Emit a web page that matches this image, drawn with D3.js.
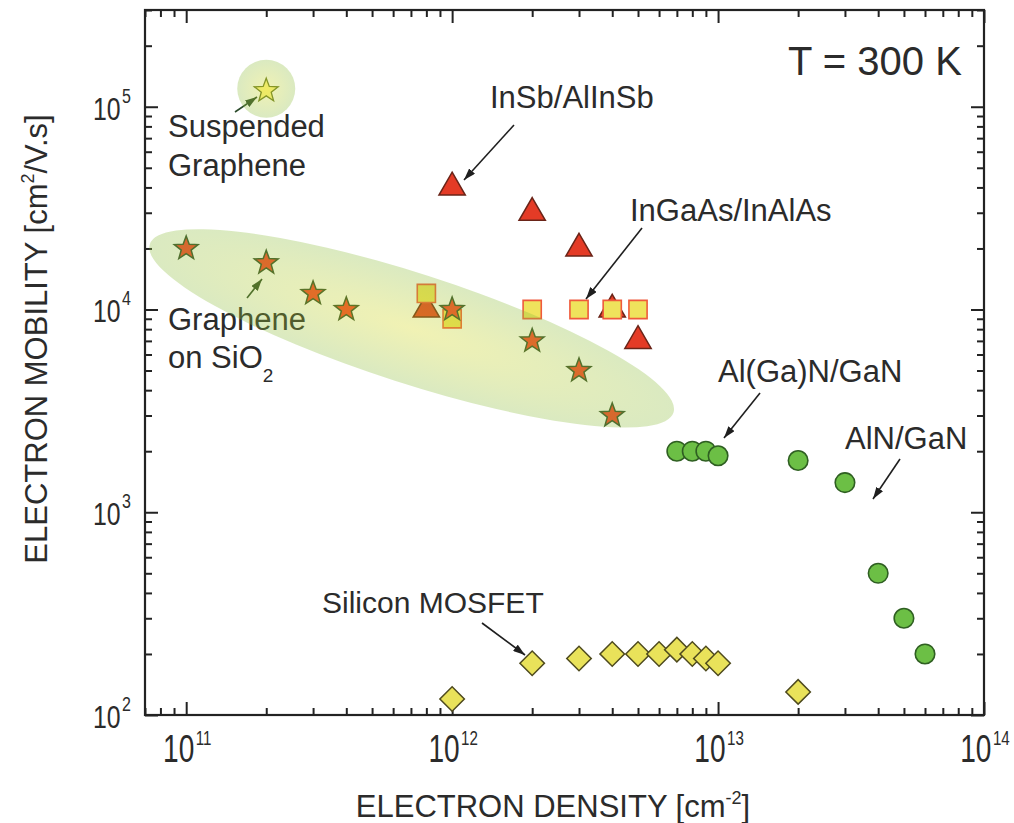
<!DOCTYPE html>
<html>
<head>
<meta charset="utf-8">
<script src="https://cdn.jsdelivr.net/npm/d3@7"></script>
<style>
body { margin: 0; background: #fff; }
svg text { font-family: "Liberation Sans", Arial, sans-serif; fill: #2b2b2b; }
</style>
</head>
<body>
<svg id="chart" width="1014" height="823"></svg>
<script>
// electron density [cm^-2] vs electron mobility [cm^2/V.s]
const grapheneSiO2 = [[1e11, 2e4], [2e11, 1.7e4], [3e11, 1.2e4], [4e11, 1e4], [1e12, 1e4], [2e12, 7e3], [3e12, 5e3], [4e12, 3e3]];
const grapheneSuspended = [[2e11, 1.2e5]];
const insb = [[8e11, 1e4], [1e12, 4e4], [2e12, 3e4], [3e12, 2e4], [4e12, 1e4], [5e12, 7e3]];
const ingaas = [[8e11, 1.2e4], [1e12, 9e3], [2e12, 1e4], [3e12, 1e4], [4e12, 1e4], [5e12, 1e4]];
const algan = [[7e12, 2e3], [8e12, 2e3], [9e12, 2e3], [1e13, 1.9e3]];
const aln = [[2e13, 1.8e3], [3e13, 1.4e3], [4e13, 500], [5e13, 300], [6e13, 200]];
const mosfet = [[1e12, 120], [2e12, 180], [3e12, 190], [4e12, 200], [5e12, 200], [6e12, 200], [7e12, 210], [8e12, 200], [9e12, 190], [1e13, 180], [2e13, 130]];

const xDomain = [7e10, 1e14];
const yDomain = [100, 3e5];
const xMajor = [1e11, 1e12, 1e13, 1e14];
const yMajor = [1e2, 1e3, 1e4, 1e5];
const xExp = ['11', '12', '13', '14'];
const yExp = ['2', '3', '4', '5'];

// highlighted graphene region (ends of the ellipse in data space)
const grapheneRegion = { from: [7.3e10, 2.1e4], to: [6.8e12, 3.1e3] };

const margin = { top: 10, right: 30, bottom: 108, left: 145 };
const W = 1014, H = 823;

const svg = d3.select('#chart');
const x = d3.scaleLog().domain(xDomain).range([margin.left, W - margin.right]);
const y = d3.scaleLog().domain(yDomain).range([H - margin.bottom, margin.top]);

const defs = svg.append('defs');
const glow = defs.append('radialGradient').attr('id', 'glow');
glow.append('stop').attr('offset', '0%').attr('stop-color', 'rgb(210,214,20)').attr('stop-opacity', 0.32);
glow.append('stop').attr('offset', '100%').attr('stop-color', 'rgb(140,188,60)').attr('stop-opacity', 0.32);

function arrowMarker(id, color) {
    defs.append('marker')
        .attr('id', id)
        .attr('markerUnits', 'userSpaceOnUse')
        .attr('viewBox', '0 0 12 8')
        .attr('refX', 12).attr('refY', 4)
        .attr('markerWidth', 12).attr('markerHeight', 8)
        .attr('orient', 'auto')
        .append('path').attr('d', 'M0,0L12,4L0,8Z').attr('fill', color);
}
arrowMarker('arr', '#1f1f1f');
arrowMarker('arrG', '#2a4a2a');

// ticks, all pointing inwards
const isMajor = v => Math.abs(Math.log10(v) - Math.round(Math.log10(v))) < 1e-6;
const xMinor = x.ticks().filter(v => !isMajor(v));
const yMinor = y.ticks().filter(v => !isMajor(v));

function ticks(axisFn, scale, values, size, tr) {
    svg.append('g').attr('transform', tr)
        .call(axisFn(scale).tickValues(values).tickSize(size).tickFormat(''))
        .call(g => g.select('.domain').remove())
        .selectAll('line').attr('stroke', '#222').attr('stroke-width', 2);
}
const x0 = margin.left, x1 = W - margin.right, y0 = margin.top, y1 = H - margin.bottom;
ticks(d3.axisBottom, x, xMinor, -7, `translate(0,${y1})`);
ticks(d3.axisBottom, x, xMajor, -13, `translate(0,${y1})`);
ticks(d3.axisTop, x, xMinor, -7, `translate(0,${y0})`);
ticks(d3.axisTop, x, xMajor, -13, `translate(0,${y0})`);
ticks(d3.axisLeft, y, yMinor, -7, `translate(${x0},0)`);
ticks(d3.axisLeft, y, yMajor, -13, `translate(${x0},0)`);
ticks(d3.axisRight, y, yMinor, -7, `translate(${x1},0)`);
ticks(d3.axisRight, y, yMajor, -13, `translate(${x1},0)`);

svg.append('rect')
    .attr('x', x0).attr('y', y0).attr('width', x1 - x0).attr('height', y1 - y0)
    .attr('fill', 'none').attr('stroke', '#222').attr('stroke-width', 2.2);

// tick labels: 10 with exponent, a little condensed like the original
svg.append('g').selectAll('text').data(xMajor).join('text')
    .attr('transform', v => `translate(${x(v) + 1},${y1 + 47}) scale(0.72,1)`)
    .attr('text-anchor', 'middle').attr('font-size', 39)
    .call(t => t.append('tspan').text('10'))
    .call(t => t.append('tspan').attr('font-size', 21).attr('dy', -17).attr('dx', 2).text((v, i) => xExp[i]));

svg.append('g').selectAll('text').data(yMajor).join('text')
    .attr('transform', v => `translate(${x0 - 14},${y(v) + 13}) scale(0.8,1)`)
    .attr('text-anchor', 'end').attr('font-size', 31)
    .call(t => t.append('tspan').text('10'))
    .call(t => t.append('tspan').attr('font-size', 20).attr('dy', -17).attr('dx', 2).text((v, i) => yExp[i]));

// axis titles
const xt = svg.append('text').attr('x', 553).attr('y', 817)
    .attr('text-anchor', 'middle').attr('font-size', 31);
xt.append('tspan').text('ELECTRON DENSITY [cm');
xt.append('tspan').attr('font-size', 18).attr('dy', -13).text('-2');
xt.append('tspan').attr('dy', 13).text(']');

const yt = svg.append('text').attr('transform', 'translate(47,339) rotate(-90)')
    .attr('text-anchor', 'middle').attr('font-size', 31);
yt.append('tspan').text('ELECTRON MOBILITY [cm');
yt.append('tspan').attr('font-size', 18).attr('dy', -13).text('2');
yt.append('tspan').attr('dy', 13).text('/V.s]');

// markers
const pts = svg.append('g');
function starPath(ro, ri) {
    const p = d3.path();
    for (let k = 0; k < 10; k++) {
        const r = k % 2 ? ri : ro;
        const a = -Math.PI / 2 + k * Math.PI / 5;
        if (k === 0) p.moveTo(r * Math.cos(a), r * Math.sin(a));
        else p.lineTo(r * Math.cos(a), r * Math.sin(a));
    }
    p.closePath();
    return p.toString();
}
function series(data, d, fill, stroke, sw, rot) {
    pts.append('g').selectAll('path').data(data).join('path')
        .attr('d', d)
        .attr('transform', p => `translate(${x(p[0])},${y(p[1])})` + (rot ? ` rotate(${rot})` : ''))
        .attr('fill', fill).attr('stroke', stroke).attr('stroke-width', sw);
}
series(insb, d3.symbol(d3.symbolTriangle, 300)(), '#e43b26', '#6a2418', 1.5);
series(ingaas, d3.symbol(d3.symbolSquare, 330)(), '#efe35c', '#ef5a3c', 1.6);
series(grapheneSiO2, starPath(12.5, 5.2), '#f5402a', '#2f4a2a', 1.5);
series(grapheneSuspended, starPath(12.5, 5.2), '#fff58a', '#6a7a2a', 1.3);
series(algan, d3.symbol(d3.symbolCircle, 300)(), '#6cbf45', '#2f5f22', 1.6);
series(aln, d3.symbol(d3.symbolCircle, 300)(), '#6cbf45', '#2f5f22', 1.6);
series(mosfet, d3.symbol(d3.symbolSquare, 300)(), '#e9e25a', '#4e4a1e', 1.5, 45);

// annotations
const ann = svg.append('g').attr('font-size', 31);
ann.append('text').attr('x', 788).attr('y', 75).attr('font-size', 40).text('T = 300 K');
ann.append('text').attr('x', 490).attr('y', 108).text('InSb/AlInSb');
ann.append('text').attr('x', 630).attr('y', 221).text('InGaAs/InAlAs');
ann.append('text').attr('x', 718).attr('y', 382).text('Al(Ga)N/GaN');
ann.append('text').attr('x', 845).attr('y', 449).text('AlN/GaN');
ann.append('text').attr('x', 322).attr('y', 613).attr('font-size', 30).text('Silicon MOSFET');
ann.append('text').attr('x', 168).attr('y', 137).text('Suspended');
ann.append('text').attr('x', 168).attr('y', 176).text('Graphene');
ann.append('text').attr('x', 168).attr('y', 330).text('Graphene');
const sio = ann.append('text').attr('x', 168).attr('y', 368);
sio.append('tspan').text('on SiO');
sio.append('tspan').attr('font-size', 19).attr('dy', 14).text('2');

const arrows = [
    [514, 125, 464, 180, 'arr'],
    [642, 228, 586, 299, 'arr'],
    [760, 393, 724, 438, 'arr'],
    [900, 459, 873, 499, 'arr'],
    [482, 623, 525, 655, 'arr'],
    [235, 112, 257, 97, 'arrG'],
    [247, 298, 262, 279, 'arrG']
];
svg.append('g').selectAll('line').data(arrows).join('line')
    .attr('x1', d => d[0]).attr('y1', d => d[1]).attr('x2', d => d[2]).attr('y2', d => d[3])
    .attr('stroke', d => d[4] === 'arr' ? '#1f1f1f' : '#2a4a2a').attr('stroke-width', 1.6)
    .attr('marker-end', d => `url(#${d[4]})`);

// translucent highlight over the graphene data
const pa = [x(grapheneRegion.from[0]), y(grapheneRegion.from[1])];
const pb = [x(grapheneRegion.to[0]), y(grapheneRegion.to[1])];
const ang = Math.atan2(pb[1] - pa[1], pb[0] - pa[0]) * 180 / Math.PI;
const ecx = (pa[0] + pb[0]) / 2, ecy = (pa[1] + pb[1]) / 2;
svg.append('ellipse')
    .attr('cx', ecx).attr('cy', ecy)
    .attr('rx', Math.hypot(pb[0] - pa[0], pb[1] - pa[1]) / 2).attr('ry', 55)
    .attr('transform', `rotate(${ang},${ecx},${ecy})`)
    .attr('fill', 'url(#glow)');
svg.append('circle')
    .attr('cx', x(grapheneSuspended[0][0])).attr('cy', y(grapheneSuspended[0][1]) - 2)
    .attr('r', 29).attr('fill', 'url(#glow)');
</script>
</body>
</html>
